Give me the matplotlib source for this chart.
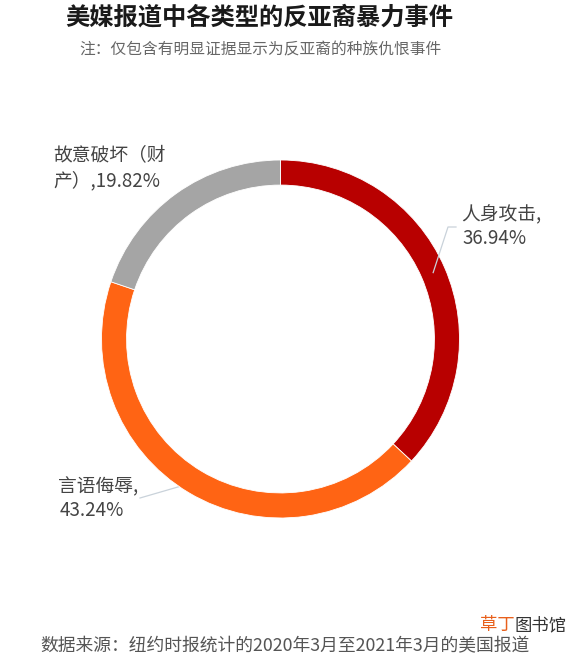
import numpy as np
import matplotlib
matplotlib.use("Agg")
import matplotlib.pyplot as plt

plt.rcParams['font.family'] = ['Noto Sans CJK SC', 'DejaVu Sans']

categories = ["人身攻击", "言语侮辱", "故意破坏（财产）"]
values = [36.94, 43.24, 19.82]
colors = ["#B80000", "#FF6414", "#A5A5A5"]

title = "美媒报道中各类型的反亚裔暴力事件"
subtitle = "注：仅包含有明显证据显示为反亚裔的种族仇恨事件"
footer = "数据来源：纽约时报统计的2020年3月至2021年3月的美国报道"

W, H = 578, 662
fig = plt.figure(figsize=(W / 100, H / 100), dpi=100)
fig.patch.set_facecolor("white")

def fx(x):
    return x / W

def fy(y):
    return 1 - y / H

cx, cy, R = 280.5, 339.0, 179.0
ax = fig.add_axes([fx(cx - R), fy(cy + R), 2 * R / W, 2 * R / H])
wedges, _ = ax.pie(values, colors=colors, startangle=90, counterclock=False,
                   radius=1.0, wedgeprops=dict(width=0.14, edgecolor="white", linewidth=0.6))
ax.set_xlim(-1, 1)
ax.set_ylim(-1, 1)
ax.set_aspect("equal")
ax.axis("off")

def to_data(px, py):
    return ((px - cx) / R, (cy - py) / R)

# leader lines from middle of ring of each wedge
line_color = "#C9D2DA"
for i, w in enumerate(wedges):
    mid = np.deg2rad((w.theta1 + w.theta2) / 2)
    x0, y0 = 0.93 * np.cos(mid), 0.93 * np.sin(mid)
    if i == 0:
        xa, ya = to_data(448, 227)
        xb, yb = to_data(456, 227)
        ax.plot([x0, xa, xb], [y0, ya, yb], color=line_color, lw=0.9, clip_on=False, zorder=5)
    elif i == 1:
        xa, ya = to_data(140, 498)
        ax.plot([x0, xa], [y0, ya], color=line_color, lw=0.9, clip_on=False, zorder=0.5)

lab_color = "#444444"
lab_fs = 13.5
fig.text(fx(461), fy(215), f"{categories[0]},", fontsize=lab_fs, color=lab_color, ha="left", va="center")
fig.text(fx(462), fy(238), f"{values[0]:.2f}%", fontsize=lab_fs, color=lab_color, ha="left", va="center")
fig.text(fx(58), fy(487), f"{categories[1]},", fontsize=lab_fs, color=lab_color, ha="left", va="center")
fig.text(fx(60), fy(510), f"{values[1]:.2f}%", fontsize=lab_fs, color=lab_color, ha="left", va="center")
fig.text(fx(53), fy(155), categories[2][:5] + categories[2][5], fontsize=lab_fs, color=lab_color, ha="left", va="center")
fig.text(fx(53), fy(181), categories[2][6:] + f",{values[2]:.2f}%", fontsize=lab_fs, color=lab_color, ha="left", va="center")

fig.text(fx(259), fy(17), title, fontsize=17.5, fontweight="heavy", color="#1a1a1a", ha="center", va="center")
fig.text(fx(260), fy(50), subtitle, fontsize=11.3, color="#666666", ha="center", va="center")
fig.text(fx(40), fy(646), footer, fontsize=12.8, color="#555555", ha="left", va="center")
fig.text(fx(480), fy(625), "草丁", fontsize=12.5, color="#E8601C", ha="left", va="center")
fig.text(fx(515), fy(625), "图书馆", fontsize=12.5, color="#333333", ha="left", va="center")

fig.savefig("out.png", dpi=100, facecolor="white")
